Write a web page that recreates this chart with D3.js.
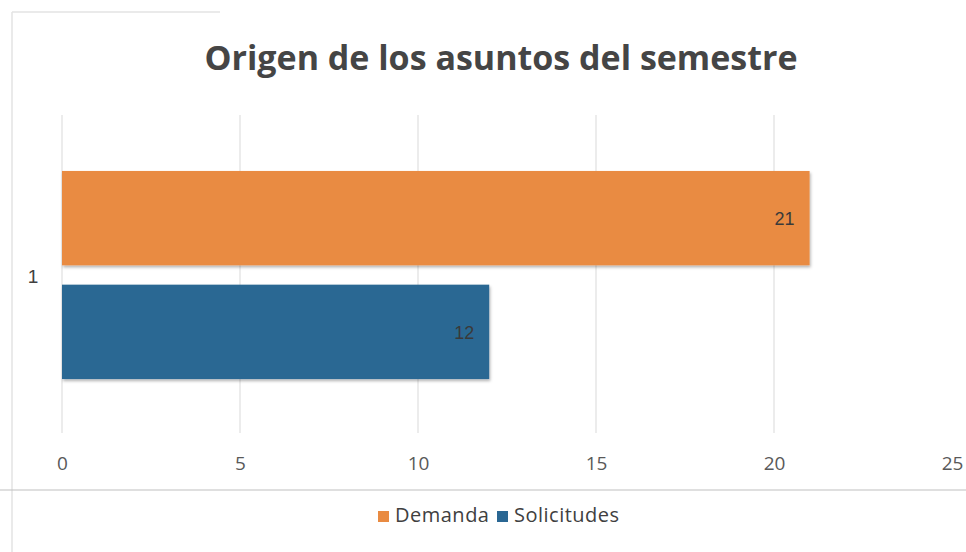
<!DOCTYPE html>
<html lang="es">
<head>
<meta charset="utf-8">
<title>Origen de los asuntos del semestre</title>
<script src="https://d3js.org/d3.v7.min.js"></script>
<style>
  body { margin: 0; background: #fff; }
  .tick text { fill: #595959; }
</style>
</head>
<body>
<script>
// data
var categories = ["1"];
var series = ["Demanda", "Solicitudes"];
var values = [21, 12];
var colors = ["#E98B42", "#2A6793"];
var xTicks = [0, 5, 10, 15, 20, 25];

var w = 966, h = 552;
var svg = d3.select("body").append("svg")
    .attr("width", w)
    .attr("height", h);

// drop shadow for the bars
var defs = svg.append("defs");
var f = defs.append("filter").attr("id", "shadow")
    .attr("x", "-5%").attr("y", "-10%").attr("width", "110%").attr("height", "130%");
f.append("feDropShadow").attr("dx", 1).attr("dy", 2).attr("stdDeviation", 1.5)
    .attr("flood-color", "#000").attr("flood-opacity", 0.3);

// chart border (scan shows left + partial top)
svg.append("line").attr("x1", 12).attr("x2", 12).attr("y1", 12).attr("y2", h)
    .attr("stroke", "#e3e3e3").attr("stroke-width", 1.5);
svg.append("line").attr("x1", 12).attr("x2", 220).attr("y1", 12).attr("y2", 12)
    .attr("stroke", "#e3e3e3").attr("stroke-width", 1.5);

// title
svg.append("text")
    .attr("x", 501).attr("y", 70)
    .attr("text-anchor", "middle")
    .style("font-family", "'Open Sans', sans-serif")
    .style("font-weight", "bold")
    .style("font-size", "34px")
    .style("fill", "#454545")
    .text("Origen de los asuntos del semestre");

var x = d3.scaleLinear().domain([0, 25]).range([62, 952]);

var y0 = d3.scaleBand().domain(categories).range([115, 435]).paddingOuter(0.269).paddingInner(0);
var y1 = d3.scaleBand().domain(series).range([0, y0.bandwidth()]).paddingInner(0.17);

// gridlines (0..20)
svg.append("g")
  .selectAll("line")
  .data(xTicks.slice(0, 5))
  .join("line")
    .attr("x1", d => x(d)).attr("x2", d => x(d))
    .attr("y1", 115).attr("y2", 433)
    .attr("stroke", "#d9d9d9").attr("stroke-width", 1);

// x axis labels
var xAxis = d3.axisBottom(x).tickValues(xTicks).tickSize(0).tickPadding(0);
svg.append("g")
    .attr("transform", "translate(0,456)")
    .call(xAxis)
    .call(g => g.select(".domain").remove())
    .call(g => g.selectAll("text")
        .style("font-family", "'Open Sans', sans-serif")
        .style("font-size", "19px"));

// category label
svg.append("text")
    .attr("x", 33).attr("y", y0("1") + y0.bandwidth() / 2 + 8)
    .attr("text-anchor", "middle")
    .style("font-family", "'Liberation Sans', sans-serif")
    .style("font-size", "19px")
    .style("fill", "#404040")
    .text(categories[0]);

// bars
var rows = series.map((s, i) => ({ s: s, v: values[i], c: colors[i] }));
var g = svg.append("g").attr("transform", "translate(0," + y0("1") + ")");
g.selectAll("rect")
  .data(rows)
  .join("rect")
    .attr("x", x(0))
    .attr("y", d => y1(d.s))
    .attr("width", d => x(d.v) - x(0))
    .attr("height", y1.bandwidth())
    .attr("fill", d => d.c)
    .attr("filter", "url(#shadow)");

g.selectAll("text.lbl")
  .data(rows)
  .join("text")
    .attr("class", "lbl")
    .attr("x", d => x(d.v) - 15)
    .attr("y", d => y1(d.s) + y1.bandwidth() / 2 + 7)
    .attr("text-anchor", "end")
    .style("font-family", "'Liberation Sans', sans-serif")
    .style("font-size", "18px")
    .style("fill", "#3a3a3a")
    .text(d => d.v);

// separator line above legend
svg.append("line").attr("x1", 0).attr("x2", w).attr("y1", 490).attr("y2", 490)
    .attr("stroke", "#bfbfbf").attr("stroke-width", 1.2);

// legend
var legX = [378, 497];
var leg = svg.append("g").selectAll("g")
  .data(rows)
  .join("g")
    .attr("transform", (d, i) => "translate(" + legX[i] + ",511)");
leg.append("rect").attr("width", 11).attr("height", 11).attr("fill", d => d.c);
leg.append("text")
    .attr("x", 17).attr("y", 11)
    .style("font-family", "'Open Sans', sans-serif")
    .style("font-size", "20px")
    .style("letter-spacing", "0.5px")
    .style("fill", "#404040")
    .text(d => d.s);
</script>
</body>
</html>
